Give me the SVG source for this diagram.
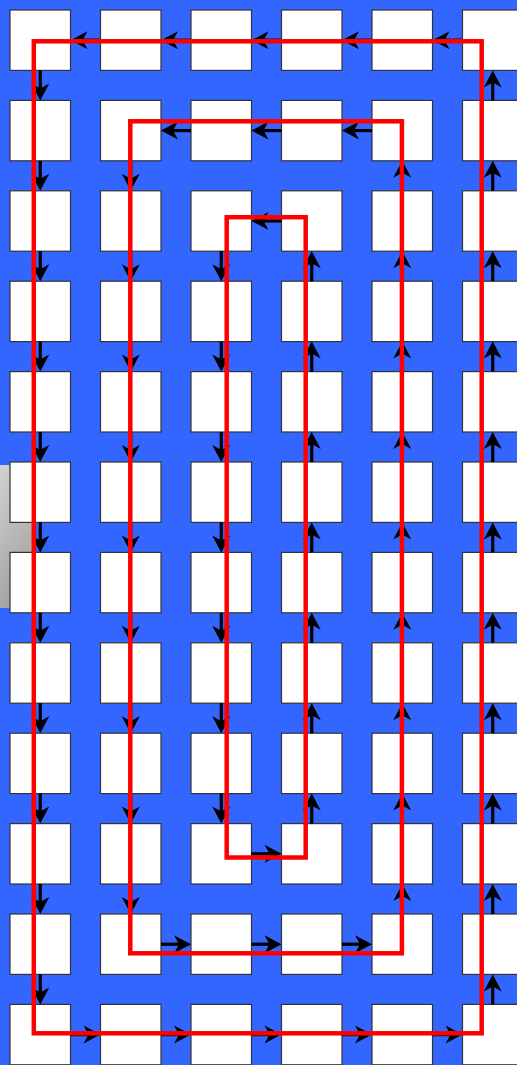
<svg xmlns="http://www.w3.org/2000/svg" width="517" height="1065" viewBox="0 0 517 1065">
<style>
.sq{fill:#ffffff;stroke:#333333;stroke-width:1.2}
.ar line{stroke:#000000;stroke-width:3.2;marker-end:url(#ah)}
.loop{fill:none;stroke:#ff0000;stroke-width:4.5;stroke-linejoin:miter}
</style>
<defs>
<marker id="ah" markerUnits="userSpaceOnUse" markerWidth="18" markerHeight="20" refX="5" refY="10" orient="auto" overflow="visible">
<path d="M17,10 L0,1 L5,10 L0,19 Z" fill="#000000"/>
</marker>
<linearGradient id="gr" x1="0" y1="0" x2="0.3" y2="1">
<stop offset="0" stop-color="#d2d2d2"/>
<stop offset="1" stop-color="#a2a2a2"/>
</linearGradient>
</defs>
<rect x="0" y="0" width="517" height="1065" fill="#3366ff"/>
<rect id="grey-panel" x="0" y="465" width="34" height="143" fill="url(#gr)"/>
<g id="nodes">
<g id="r0">
<rect id="n0-0" class="sq" x="10" y="10" width="60.5" height="60.4"/>
<rect id="n0-1" class="sq" x="100.5" y="10" width="60.5" height="60.4"/>
<rect id="n0-2" class="sq" x="191" y="10" width="60.5" height="60.4"/>
<rect id="n0-3" class="sq" x="281.5" y="10" width="60.5" height="60.4"/>
<rect id="n0-4" class="sq" x="372" y="10" width="60.5" height="60.4"/>
<rect id="n0-5" class="sq" x="462.5" y="10" width="60.5" height="60.4"/>
</g>
<g id="r1">
<rect id="n1-0" class="sq" x="10" y="100.4" width="60.5" height="60.4"/>
<rect id="n1-1" class="sq" x="100.5" y="100.4" width="60.5" height="60.4"/>
<rect id="n1-2" class="sq" x="191" y="100.4" width="60.5" height="60.4"/>
<rect id="n1-3" class="sq" x="281.5" y="100.4" width="60.5" height="60.4"/>
<rect id="n1-4" class="sq" x="372" y="100.4" width="60.5" height="60.4"/>
<rect id="n1-5" class="sq" x="462.5" y="100.4" width="60.5" height="60.4"/>
</g>
<g id="r2">
<rect id="n2-0" class="sq" x="10" y="190.8" width="60.5" height="60.4"/>
<rect id="n2-1" class="sq" x="100.5" y="190.8" width="60.5" height="60.4"/>
<rect id="n2-2" class="sq" x="191" y="190.8" width="60.5" height="60.4"/>
<rect id="n2-3" class="sq" x="281.5" y="190.8" width="60.5" height="60.4"/>
<rect id="n2-4" class="sq" x="372" y="190.8" width="60.5" height="60.4"/>
<rect id="n2-5" class="sq" x="462.5" y="190.8" width="60.5" height="60.4"/>
</g>
<g id="r3">
<rect id="n3-0" class="sq" x="10" y="281.2" width="60.5" height="60.4"/>
<rect id="n3-1" class="sq" x="100.5" y="281.2" width="60.5" height="60.4"/>
<rect id="n3-2" class="sq" x="191" y="281.2" width="60.5" height="60.4"/>
<rect id="n3-3" class="sq" x="281.5" y="281.2" width="60.5" height="60.4"/>
<rect id="n3-4" class="sq" x="372" y="281.2" width="60.5" height="60.4"/>
<rect id="n3-5" class="sq" x="462.5" y="281.2" width="60.5" height="60.4"/>
</g>
<g id="r4">
<rect id="n4-0" class="sq" x="10" y="371.6" width="60.5" height="60.4"/>
<rect id="n4-1" class="sq" x="100.5" y="371.6" width="60.5" height="60.4"/>
<rect id="n4-2" class="sq" x="191" y="371.6" width="60.5" height="60.4"/>
<rect id="n4-3" class="sq" x="281.5" y="371.6" width="60.5" height="60.4"/>
<rect id="n4-4" class="sq" x="372" y="371.6" width="60.5" height="60.4"/>
<rect id="n4-5" class="sq" x="462.5" y="371.6" width="60.5" height="60.4"/>
</g>
<g id="r5">
<rect id="n5-0" class="sq" x="10" y="462" width="60.5" height="60.4"/>
<rect id="n5-1" class="sq" x="100.5" y="462" width="60.5" height="60.4"/>
<rect id="n5-2" class="sq" x="191" y="462" width="60.5" height="60.4"/>
<rect id="n5-3" class="sq" x="281.5" y="462" width="60.5" height="60.4"/>
<rect id="n5-4" class="sq" x="372" y="462" width="60.5" height="60.4"/>
<rect id="n5-5" class="sq" x="462.5" y="462" width="60.5" height="60.4"/>
</g>
<g id="r6">
<rect id="n6-0" class="sq" x="10" y="552.4" width="60.5" height="60.4"/>
<rect id="n6-1" class="sq" x="100.5" y="552.4" width="60.5" height="60.4"/>
<rect id="n6-2" class="sq" x="191" y="552.4" width="60.5" height="60.4"/>
<rect id="n6-3" class="sq" x="281.5" y="552.4" width="60.5" height="60.4"/>
<rect id="n6-4" class="sq" x="372" y="552.4" width="60.5" height="60.4"/>
<rect id="n6-5" class="sq" x="462.5" y="552.4" width="60.5" height="60.4"/>
</g>
<g id="r7">
<rect id="n7-0" class="sq" x="10" y="642.8" width="60.5" height="60.4"/>
<rect id="n7-1" class="sq" x="100.5" y="642.8" width="60.5" height="60.4"/>
<rect id="n7-2" class="sq" x="191" y="642.8" width="60.5" height="60.4"/>
<rect id="n7-3" class="sq" x="281.5" y="642.8" width="60.5" height="60.4"/>
<rect id="n7-4" class="sq" x="372" y="642.8" width="60.5" height="60.4"/>
<rect id="n7-5" class="sq" x="462.5" y="642.8" width="60.5" height="60.4"/>
</g>
<g id="r8">
<rect id="n8-0" class="sq" x="10" y="733.2" width="60.5" height="60.4"/>
<rect id="n8-1" class="sq" x="100.5" y="733.2" width="60.5" height="60.4"/>
<rect id="n8-2" class="sq" x="191" y="733.2" width="60.5" height="60.4"/>
<rect id="n8-3" class="sq" x="281.5" y="733.2" width="60.5" height="60.4"/>
<rect id="n8-4" class="sq" x="372" y="733.2" width="60.5" height="60.4"/>
<rect id="n8-5" class="sq" x="462.5" y="733.2" width="60.5" height="60.4"/>
</g>
<g id="r9">
<rect id="n9-0" class="sq" x="10" y="823.6" width="60.5" height="60.4"/>
<rect id="n9-1" class="sq" x="100.5" y="823.6" width="60.5" height="60.4"/>
<rect id="n9-2" class="sq" x="191" y="823.6" width="60.5" height="60.4"/>
<rect id="n9-3" class="sq" x="281.5" y="823.6" width="60.5" height="60.4"/>
<rect id="n9-4" class="sq" x="372" y="823.6" width="60.5" height="60.4"/>
<rect id="n9-5" class="sq" x="462.5" y="823.6" width="60.5" height="60.4"/>
</g>
<g id="r10">
<rect id="n10-0" class="sq" x="10" y="914" width="60.5" height="60.4"/>
<rect id="n10-1" class="sq" x="100.5" y="914" width="60.5" height="60.4"/>
<rect id="n10-2" class="sq" x="191" y="914" width="60.5" height="60.4"/>
<rect id="n10-3" class="sq" x="281.5" y="914" width="60.5" height="60.4"/>
<rect id="n10-4" class="sq" x="372" y="914" width="60.5" height="60.4"/>
<rect id="n10-5" class="sq" x="462.5" y="914" width="60.5" height="60.4"/>
</g>
<g id="r11">
<rect id="n11-0" class="sq" x="10" y="1004.4" width="60.5" height="60.4"/>
<rect id="n11-1" class="sq" x="100.5" y="1004.4" width="60.5" height="60.4"/>
<rect id="n11-2" class="sq" x="191" y="1004.4" width="60.5" height="60.4"/>
<rect id="n11-3" class="sq" x="281.5" y="1004.4" width="60.5" height="60.4"/>
<rect id="n11-4" class="sq" x="372" y="1004.4" width="60.5" height="60.4"/>
<rect id="n11-5" class="sq" x="462.5" y="1004.4" width="60.5" height="60.4"/>
</g>
</g>
<g id="connectors" class="ar">
<!-- outer: top row leftward -->
<line x1="462.5" y1="40.2" x2="444.5" y2="40.2"/>
<line x1="372" y1="40.2" x2="354" y2="40.2"/>
<line x1="281.5" y1="40.2" x2="263.5" y2="40.2"/>
<line x1="191" y1="40.2" x2="173" y2="40.2"/>
<line x1="100.5" y1="40.2" x2="82.5" y2="40.2"/>
<!-- outer: left col downward -->
<line x1="40.25" y1="70.4" x2="40.25" y2="88.4"/>
<line x1="40.25" y1="160.8" x2="40.25" y2="178.8"/>
<line x1="40.25" y1="251.2" x2="40.25" y2="269.2"/>
<line x1="40.25" y1="341.6" x2="40.25" y2="359.6"/>
<line x1="40.25" y1="432" x2="40.25" y2="450"/>
<line x1="40.25" y1="522.4" x2="40.25" y2="540.4"/>
<line x1="40.25" y1="612.8" x2="40.25" y2="630.8"/>
<line x1="40.25" y1="703.2" x2="40.25" y2="721.2"/>
<line x1="40.25" y1="793.6" x2="40.25" y2="811.6"/>
<line x1="40.25" y1="884" x2="40.25" y2="902"/>
<line x1="40.25" y1="974.4" x2="40.25" y2="992.4"/>
<!-- outer: bottom row rightward -->
<line x1="70.5" y1="1034.6" x2="88.5" y2="1034.6"/>
<line x1="161" y1="1034.6" x2="179" y2="1034.6"/>
<line x1="251.5" y1="1034.6" x2="269.5" y2="1034.6"/>
<line x1="342" y1="1034.6" x2="360" y2="1034.6"/>
<line x1="432.5" y1="1034.6" x2="450.5" y2="1034.6"/>
<!-- outer: right col upward -->
<line x1="492.75" y1="1004.4" x2="492.75" y2="986.4"/>
<line x1="492.75" y1="914" x2="492.75" y2="896"/>
<line x1="492.75" y1="823.6" x2="492.75" y2="805.6"/>
<line x1="492.75" y1="733.2" x2="492.75" y2="715.2"/>
<line x1="492.75" y1="642.8" x2="492.75" y2="624.8"/>
<line x1="492.75" y1="552.4" x2="492.75" y2="534.4"/>
<line x1="492.75" y1="462" x2="492.75" y2="444"/>
<line x1="492.75" y1="371.6" x2="492.75" y2="353.6"/>
<line x1="492.75" y1="281.2" x2="492.75" y2="263.2"/>
<line x1="492.75" y1="190.8" x2="492.75" y2="172.8"/>
<line x1="492.75" y1="100.4" x2="492.75" y2="82.4"/>
<!-- middle: top -->
<line x1="372" y1="130.6" x2="354" y2="130.6"/>
<line x1="281.5" y1="130.6" x2="263.5" y2="130.6"/>
<line x1="191" y1="130.6" x2="173" y2="130.6"/>
<!-- middle: left -->
<line x1="130.75" y1="160.8" x2="130.75" y2="178.8"/>
<line x1="130.75" y1="251.2" x2="130.75" y2="269.2"/>
<line x1="130.75" y1="341.6" x2="130.75" y2="359.6"/>
<line x1="130.75" y1="432" x2="130.75" y2="450"/>
<line x1="130.75" y1="522.4" x2="130.75" y2="540.4"/>
<line x1="130.75" y1="612.8" x2="130.75" y2="630.8"/>
<line x1="130.75" y1="703.2" x2="130.75" y2="721.2"/>
<line x1="130.75" y1="793.6" x2="130.75" y2="811.6"/>
<line x1="130.75" y1="884" x2="130.75" y2="902"/>
<!-- middle: bottom -->
<line x1="161" y1="944.2" x2="179" y2="944.2"/>
<line x1="251.5" y1="944.2" x2="269.5" y2="944.2"/>
<line x1="342" y1="944.2" x2="360" y2="944.2"/>
<!-- middle: right -->
<line x1="402.25" y1="914" x2="402.25" y2="896"/>
<line x1="402.25" y1="823.6" x2="402.25" y2="805.6"/>
<line x1="402.25" y1="733.2" x2="402.25" y2="715.2"/>
<line x1="402.25" y1="642.8" x2="402.25" y2="624.8"/>
<line x1="402.25" y1="552.4" x2="402.25" y2="534.4"/>
<line x1="402.25" y1="462" x2="402.25" y2="444"/>
<line x1="402.25" y1="371.6" x2="402.25" y2="353.6"/>
<line x1="402.25" y1="281.2" x2="402.25" y2="263.2"/>
<line x1="402.25" y1="190.8" x2="402.25" y2="172.8"/>
<!-- inner: top -->
<line x1="281.5" y1="221" x2="263.5" y2="221"/>
<!-- inner: left -->
<line x1="221.25" y1="251.2" x2="221.25" y2="269.2"/>
<line x1="221.25" y1="341.6" x2="221.25" y2="359.6"/>
<line x1="221.25" y1="432" x2="221.25" y2="450"/>
<line x1="221.25" y1="522.4" x2="221.25" y2="540.4"/>
<line x1="221.25" y1="612.8" x2="221.25" y2="630.8"/>
<line x1="221.25" y1="703.2" x2="221.25" y2="721.2"/>
<line x1="221.25" y1="793.6" x2="221.25" y2="811.6"/>
<!-- inner: bottom -->
<line x1="251.5" y1="853.8" x2="269.5" y2="853.8"/>
<!-- inner: right -->
<line x1="311.75" y1="823.6" x2="311.75" y2="805.6"/>
<line x1="311.75" y1="733.2" x2="311.75" y2="715.2"/>
<line x1="311.75" y1="642.8" x2="311.75" y2="624.8"/>
<line x1="311.75" y1="552.4" x2="311.75" y2="534.4"/>
<line x1="311.75" y1="462" x2="311.75" y2="444"/>
<line x1="311.75" y1="371.6" x2="311.75" y2="353.6"/>
<line x1="311.75" y1="281.2" x2="311.75" y2="263.2"/>
</g>
<g id="loops">
<rect id="loop-outer" class="loop" x="33.8" y="41.3" width="447.9" height="992"/>
<rect id="loop-middle" class="loop" x="130.3" y="121.3" width="271.6" height="832"/>
<rect id="loop-inner" class="loop" x="226.7" y="217.2" width="79" height="640.3"/>
</g>
</svg>
